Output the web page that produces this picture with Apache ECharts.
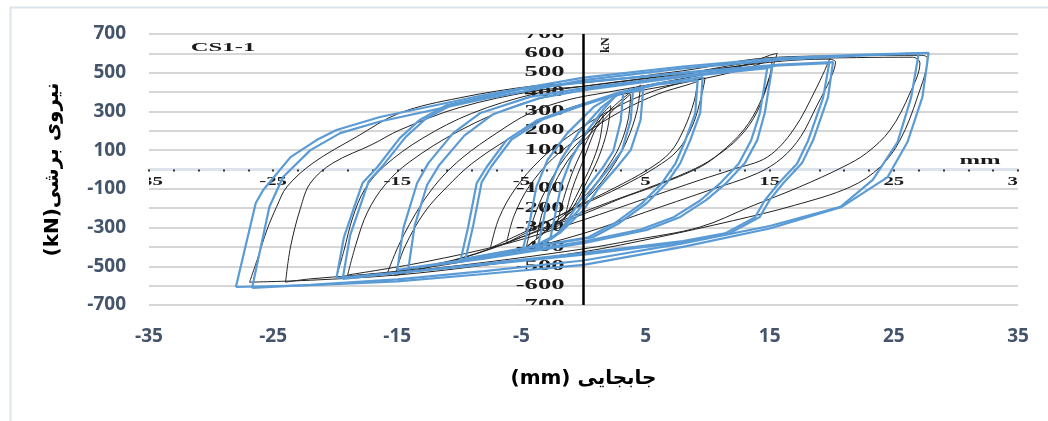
<!DOCTYPE html>
<html lang="fa">
<head>
    <meta charset="utf-8">
    <title>CS1-1</title>
    <script src="https://cdn.jsdelivr.net/npm/echarts@6/dist/echarts.min.js"></script>
</head>
<body style="margin:0;background:#fff;">
<div id="main" style="width:1048px;height:421px;"></div>

<script type="text/javascript">
    // tick labels of the embedded test plot
    var innerYTicks = [700, 600, 500, 400, 300, 200, 100, -100, -200, -300, -400, -500, -600, -700];
    var innerXTicks = [-35, -25, -15, -5, 5, 15, 25, 35];

    // test curves (black), [displacement mm, force kN]
    var test28a = [[-26.9,-582],[-26.2,-450],[-25.5,-312],[-24.7,-190],[-23.9,-90],[-21.8,33],[-18.3,168],[-14.8,292],[-10,370],[-4,432],[0,448],[8,510],[15,578],[22,588],[27.2,590],[27.7,575],[26.9,374],[25.5,152],[23.9,13],[21.5,-90],[17,-185],[12,-265],[6,-350],[0,-425],[-8,-495],[-15,-545],[-22,-572],[-26.9,-582]];
    var test28b = [[-24.0,-582],[-23.6,-400],[-22.8,-200],[-22.0,-70],[-20.2,33],[-17,130],[-14.8,204],[-10,320],[-4,405],[0,430],[8,495],[15,565],[22,578],[26.5,580],[27.1,550],[26.3,395],[24.7,204],[22.8,85],[20.9,13],[17.4,-90],[13.4,-193],[9.4,-297],[4,-365],[0,-410],[-8,-480],[-15,-530],[-22,-565],[-24.0,-582]];
    var test20a = [[-19.9,-555],[-19.3,-420],[-18.6,-250],[-17.6,-100],[-16,20],[-13,160],[-9,290],[-4,390],[0,430],[6,480],[12,530],[16,560],[19.5,570],[20.3,555],[19.9,470],[18.8,330],[17.5,170],[16,60],[14,-20],[10,-110],[5,-220],[0,-330],[-6,-430],[-13,-510],[-19.9,-555]];
    var test20b = [[-19.0,-545],[-18.3,-380],[-17.4,-220],[-16,-80],[-14,40],[-10,200],[-5,340],[0,410],[6,470],[12,530],[16,570],[19.9,581],[18.8,426],[16.9,204],[14.8,64],[12,0],[9.4,-54],[5,-150],[0,-260],[-6,-380],[-13,-480],[-19.0,-545]];
    var test15a = [[-15.8,-535],[-14.8,-380],[-13.2,-194],[-11.6,-54],[-9.7,64],[-7,188],[-4.3,292],[-1.3,359],[2,400],[8,470],[12.5,530],[15.0,590],[15.6,600],[15.3,540],[14.2,343],[12.9,204],[11,85],[9.4,13],[6,-80],[3,-150],[0,-230],[-5,-350],[-10,-460],[-15.8,-535]];
    var test15b = [[-15.2,-548],[-14.4,-400],[-12.8,-220],[-11,-90],[-9,30],[-6,160],[-3,270],[0,340],[4,400],[9,460],[13,520],[15.2,570],[15.0,480],[14.0,300],[12.6,170],[10.5,60],[8.5,-10],[5,-100],[2,-170],[-2,-270],[-7,-400],[-11,-480],[-15.2,-548]];
    var test8a = [[-7.5,-406],[-6.8,-250],[-5.5,-100],[-3.5,50],[-1,180],[2,300],[5,390],[8,450],[9.8,473],[9.5,380],[8.8,230],[7.6,100],[5.8,10],[3,-90],[0,-180],[-4,-300],[-7.5,-406]];
    var test8b = [[-6.2,-380],[-5.6,-240],[-4.4,-90],[-2.5,55],[0,180],[3,300],[6,390],[8.5,440],[9.2,455],[8.9,350],[8.1,210],[7,90],[5.2,0],[2.5,-95],[-0.5,-190],[-3.5,-290],[-6.2,-380]];
    var test4a = [[-4.6,-400],[-4,-250],[-3,-100],[-1.5,60],[0.5,200],[2.5,330],[4,410],[4.6,436],[4.3,300],[3.5,150],[2.5,30],[1,-100],[-1,-220],[-3,-320],[-4.6,-400]];
    var test4b = [[-3.8,-360],[-3.3,-220],[-2.4,-80],[-1,70],[0.8,200],[2.6,320],[3.8,390],[3.6,260],[2.9,120],[1.9,10],[0.5,-110],[-1.3,-220],[-2.8,-300],[-3.8,-360]];
    var test2a = [[-2.2,-300],[-1.6,-150],[-0.8,0],[0.3,150],[1.3,270],[2.2,330],[1.9,200],[1.2,60],[0.3,-60],[-0.6,-170],[-1.5,-250],[-2.2,-300]];
    var test2b = [[-1.5,-250],[-0.9,-100],[0,50],[0.9,200],[1.6,280],[1.3,150],[0.6,20],[-0.3,-100],[-1.0,-190],[-1.5,-250]];

    // model curves (blue)
    var model28a = [[-28.0,-607],[-26.4,-173],[-25.8,-106],[-23.6,64],[-21.5,152],[-19.9,204],[-16.4,271],[-8,385],[0,475],[8,532],[15.8,576],[22,592],[27.8,603],[27.3,374],[26.1,142],[24.5,-39],[20.8,-193],[15,-305],[8,-400],[0,-493],[-8,-540],[-15,-578],[-22,-598],[-28.0,-607]];
    var model28b = [[-26.7,-612],[-25.3,-192],[-24.2,-39],[-22.0,100],[-19.6,188],[-16.4,248],[-8,365],[0,462],[8,522],[15.8,566],[22,588],[27.0,600],[26.4,374],[25.3,142],[23.3,-54],[20.7,-193],[15,-292],[8,-382],[0,-470],[-8,-525],[-15,-568],[-22,-596],[-26.7,-612]];
    var model20a = [[-19.9,-560],[-19.3,-350],[-18.5,-200],[-17.8,-70],[-16.6,13],[-14.8,162],[-13.2,256],[-11,333],[-5,415],[0,450],[8,500],[15.8,542],[20.1,555],[19.7,374],[18.5,152],[17.6,33],[16.1,-70],[15.0,-157],[14.2,-245],[11.8,-328],[8,-375],[0,-440],[-10,-505],[-19.9,-560]];
    var model20b = [[-19.4,-565],[-18.8,-340],[-18.0,-190],[-17.3,-60],[-16.1,25],[-14.3,170],[-12.7,262],[-10.5,338],[-5,418],[0,452],[8,498],[15.8,538],[19.8,550],[19.3,370],[18.1,150],[17.2,30],[15.7,-72],[14.6,-160],[13.8,-248],[11.4,-330],[8,-370],[0,-432],[-10,-500],[-19.4,-565]];
    var model15a = [[-15.0,-519],[-14.5,-300],[-13.4,-70],[-12.5,33],[-10.5,188],[-8.3,292],[-4.3,375],[0,420],[8,485],[15.2,529],[14.6,292],[14.0,152],[13.0,33],[11.5,-70],[9.9,-157],[7.8,-245],[5.1,-312],[0,-380],[-8,-460],[-15.0,-519]];
    var model15b = [[-14.1,-509],[-13.6,-290],[-12.6,-80],[-11.6,25],[-9.6,175],[-7.3,285],[-3.5,370],[0,410],[8,478],[14.8,524],[14.2,290],[13.5,150],[12.5,30],[11.0,-72],[9.4,-160],[7.3,-245],[4.6,-310],[0,-372],[-8,-452],[-14.1,-509]];
    var model10a = [[-9.9,-467],[-9.3,-300],[-8.6,-70],[-7.8,13],[-6.2,152],[-3.7,256],[-0.3,333],[3,400],[6,445],[9.6,478],[9.4,292],[8.6,152],[7.8,33],[6.7,-70],[5.1,-173],[2.9,-276],[0.8,-349],[-5,-410],[-9.9,-467]];
    var model10b = [[-9.5,-460],[-8.9,-295],[-8.2,-65],[-7.4,18],[-5.8,155],[-3.3,258],[0.1,335],[3.2,398],[6,440],[9.2,462],[9.0,290],[8.2,150],[7.4,30],[6.3,-72],[4.7,-175],[2.5,-278],[0.4,-350],[-5,-408],[-9.5,-460]];
    var model5a = [[-4.9,-416],[-4.3,-261],[-3.8,-90],[-2.9,49],[-1.3,188],[0.8,322],[2.7,395],[4.8,410],[4.6,256],[3.8,100],[2.7,13],[1.3,-90],[0,-209],[-1.9,-328],[-3.5,-380],[-4.9,-416]];
    var model5b = [[-3.7,-406],[-3.2,-255],[-2.7,-85],[-1.8,52],[-0.4,190],[1.4,318],[2.8,390],[4.0,415],[3.8,255],[3.1,98],[2.1,10],[0.8,-92],[-0.4,-210],[-2.0,-325],[-3.0,-375],[-3.7,-406]];
    var model5c = [[-2.7,-364],[-2.3,-240],[-1.8,-80],[-1.0,55],[0.2,190],[1.6,310],[2.5,375],[3.2,400],[3.0,250],[2.4,95],[1.5,5],[0.3,-95],[-0.7,-205],[-1.7,-300],[-2.2,-340],[-2.7,-364]];

    var testLoops = [test28a, test28b, test20a, test20b, test15a, test15b, test8a, test8b, test4a, test4b, test2a, test2b];
    var modelLoops = [model28a, model28b, model20a, model20b, model15a, model15b, model10a, model10b, model5a, model5b, model5c];

    var myChart = echarts.init(document.getElementById('main'));

    var labelFont = 'bold 14px "Liberation Serif"';
    var series = [];

    // tick labels of the scanned test plot (they look stretched sideways)
    series.push({
        type: 'custom',
        xAxisIndex: 0, yAxisIndex: 0,
        clip: true, z: 1, silent: true,
        data: innerYTicks.map(function (v) { return [0, v]; }),
        renderItem: function (params, api) {
            var p = api.coord([api.value(0), api.value(1)]);
            return {
                type: 'text', x: p[0] - 19, y: p[1], scaleX: 1.9,
                style: {x: 0, y: 0, text: String(api.value(1)), font: labelFont, fill: '#1a1a1a', align: 'right', verticalAlign: 'middle'}
            };
        }
    });
    series.push({
        type: 'custom',
        xAxisIndex: 0, yAxisIndex: 0,
        clip: true, z: 1, silent: true,
        data: innerXTicks.map(function (v) { return [v, 0]; }),
        renderItem: function (params, api) {
            var p = api.coord([api.value(0), api.value(1)]);
            return {
                type: 'text', x: p[0], y: p[1] + 12, scaleX: 1.6,
                style: {x: 0, y: 0, text: String(api.value(0)), font: 'bold 13px "Liberation Serif"', fill: '#1a1a1a', align: 'center', verticalAlign: 'middle'}
            };
        }
    });

    testLoops.forEach(function (d, i) {
        var s = {
            type: 'line', data: d, xAxisIndex: 0, yAxisIndex: 0,
            showSymbol: false, smooth: 0.35, z: 2, silent: true,
            lineStyle: {color: '#222', width: 1}
        };
        if (i === 0) {
            // vertical force axis of the test plot, at zero displacement
            s.markLine = {
                silent: true, symbol: 'none', label: {show: false},
                lineStyle: {color: '#000', width: 2.5, type: 'solid'},
                data: [{xAxis: 0}]
            };
        }
        series.push(s);
    });
    modelLoops.forEach(function (d) {
        series.push({
            type: 'line', data: d, xAxisIndex: 0, yAxisIndex: 0,
            showSymbol: false, smooth: false, z: 3, silent: true,
            lineStyle: {color: '#5b9bd5', width: 2.2}
        });
    });

    var plotGrid = {left: 149, right: 30, top: 34, bottom: 116};

    var option = {
        animation: false,
        grid: [plotGrid, plotGrid],
        xAxis: [
            {
                gridIndex: 0, type: 'value', min: -35, max: 35, interval: 10,
                axisLine: {show: false}, axisTick: {show: false}, splitLine: {show: false},
                axisLabel: {color: '#44546a', fontWeight: 'bold', fontSize: 19, fontFamily: 'Open Sans', margin: 22},
                name: '(mm) جابجایی', nameLocation: 'middle', nameGap: 64,
                nameTextStyle: {color: '#000', fontWeight: 'bold', fontSize: 20, fontFamily: 'DejaVu Sans'}
            },
            {
                gridIndex: 1, type: 'value', min: -35, max: 35, interval: 10,
                axisLine: {onZero: true, lineStyle: {color: '#dde3ea', width: 3}},
                axisTick: {show: true, length: 2, lineStyle: {color: '#333', width: 2}},
                minorTick: {show: true, splitNumber: 5, length: 2, lineStyle: {color: '#333', width: 2}},
                axisLabel: {show: false}, splitLine: {show: false}
            }
        ],
        yAxis: [
            {
                gridIndex: 0, type: 'value', min: -700, max: 700, interval: 100,
                axisLine: {show: false}, axisTick: {show: false},
                splitLine: {lineStyle: {color: '#c8c8c8', width: 1.5}},
                axisLabel: {
                    color: '#44546a', fontWeight: 'bold', fontSize: 19, fontFamily: 'Open Sans', margin: 23,
                    formatter: function (v) { return Math.abs(v) % 200 === 100 ? String(v) : ''; }
                },
                name: '(kN)نیروی برشی', nameLocation: 'middle', nameGap: 86,
                nameTextStyle: {color: '#000', fontWeight: 'bold', fontSize: 20, fontFamily: 'DejaVu Sans'}
            },
            {
                gridIndex: 1, type: 'value', min: -700, max: 700, interval: 100,
                axisLine: {show: false, onZero: false}, axisTick: {show: false},
                axisLabel: {show: false}, splitLine: {show: false}
            }
        ],
        graphic: [
            {type: 'rect', left: 8, top: 5, silent: true, shape: {width: 1100, height: 500},
             style: {fill: 'none', stroke: '#dde3ea', lineWidth: 2}},
            {type: 'text', x: 223, y: 48, scaleX: 1.9, silent: true,
             style: {text: 'CS1-1', font: 'bold 13px "Liberation Serif"', fill: '#1a1a1a', align: 'center', verticalAlign: 'middle'}},
            {type: 'text', x: 980, y: 161, scaleX: 1.9, silent: true,
             style: {text: 'mm', font: 'bold 13px "Liberation Serif"', fill: '#1a1a1a', align: 'center', verticalAlign: 'middle'}},
            {type: 'text', x: 606, y: 45, rotation: Math.PI / 2, silent: true,
             style: {text: 'kN', font: 'bold 12px "Liberation Serif"', fill: '#1a1a1a', align: 'center', verticalAlign: 'middle'}}
        ],
        series: series
    };

    myChart.setOption(option);
</script>

</body>
</html>
